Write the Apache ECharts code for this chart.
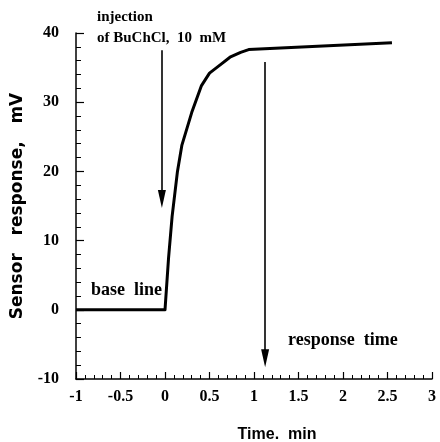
<!DOCTYPE html>
<html><head><meta charset="utf-8">
<script src="https://cdn.jsdelivr.net/npm/echarts@6/dist/echarts.min.js"></script>
<style>html,body{margin:0;padding:0;background:#fff}#c{width:440px;height:442px}</style>
</head><body><div id="c"></div>
<script>
// Data
const timeMin    = [-1, 0, 0.04, 0.08, 0.14, 0.19, 0.30, 0.41, 0.50, 0.62, 0.73, 0.85, 0.94, 2.55];
const responseMV = [0,  0, 7.5,  13.5, 20,   23.8, 28.5, 32.4, 34.2, 35.4, 36.5, 37.2, 37.6, 38.6];
const xRange = [-1, 3];
const yRange = [-10, 40];
const injectionArrow = { x: -0.035, from: 37.5, to: 16 };
const responseArrow  = { x: 1.125, from: 35.8, to: -7 };
const texts = {
  injection1: 'injection',
  injection2: 'of BuChCl,  10  mM',
  baseLine: 'base  line',
  responseTime: 'response  time',
  xTitle: 'Time.  min',
  yTitle: 'Sensor   response,   mV'
};

const serif = '"Liberation Serif", "DejaVu Serif", serif';
const sans = '"Liberation Sans", Arial, sans-serif';
const chart = echarts.init(document.getElementById('c'), null, { renderer: 'canvas' });
const arrowHead = 'path://M5,0 L10,22 L0,22 Z';

chart.setOption({
  animation: false,
  backgroundColor: '#fff',
  grid: { left: 76, right: 8, top: 33, bottom: 63 },
  xAxis: {
    type: 'value', min: xRange[0], max: xRange[1], interval: 0.5,
    axisLine: { show: true, onZero: false, lineStyle: { color: '#000', width: 1.5 } },
    axisTick: { show: true, inside: true, length: 7, lineStyle: { color: '#000', width: 1.2 } },
    minorTick: { show: true, splitNumber: 5, length: 4, lineStyle: { color: '#000', width: 1 } },
    splitLine: { show: false },
    axisLabel: { color: '#000', fontFamily: serif, fontWeight: 'bold', fontSize: 16, margin: 10 }
  },
  yAxis: {
    type: 'value', min: yRange[0], max: yRange[1], interval: 10,
    axisLine: { show: true, onZero: false, lineStyle: { color: '#000', width: 1.5 } },
    axisTick: { show: true, inside: true, length: 8, lineStyle: { color: '#000', width: 1.2 } },
    minorTick: { show: true, splitNumber: 5, length: 5, lineStyle: { color: '#000', width: 1 } },
    splitLine: { show: false },
    axisLabel: { color: '#000', fontFamily: serif, fontWeight: 'bold', fontSize: 16, margin: 17 }
  },
  series: [{
    type: 'line',
    data: timeMin.map((t, i) => [t, responseMV[i]]),
    showSymbol: false,
    smooth: false,
    lineStyle: { color: '#000', width: 3, join: 'round' },
    markLine: {
      silent: true,
      symbol: ['none', arrowHead],
      symbolSize: [8, 18],
      label: { show: false },
      lineStyle: { color: '#000', type: 'solid', width: 1.6 },
      data: [
        [{ coord: [injectionArrow.x, injectionArrow.from] }, { coord: [injectionArrow.x, injectionArrow.to] }],
        [{ coord: [responseArrow.x, responseArrow.from] }, { coord: [responseArrow.x, responseArrow.to] }]
      ]
    }
  }],
  graphic: [
    { type: 'text', x: 97, y: 17, style: { text: texts.injection1, font: 'bold 15px ' + serif, fill: '#000', verticalAlign: 'middle' } },
    { type: 'text', x: 97, y: 38, style: { text: texts.injection2, font: 'bold 15px ' + serif, fill: '#000', verticalAlign: 'middle' } },
    { type: 'text', x: 91, y: 290, style: { text: texts.baseLine, font: 'bold 18px ' + serif, fill: '#000', verticalAlign: 'middle' } },
    { type: 'text', x: 288, y: 340, style: { text: texts.responseTime, font: 'bold 18px ' + serif, fill: '#000', verticalAlign: 'middle' } },
    { type: 'text', x: 277, y: 435, style: { text: texts.xTitle, font: 'bold 16px ' + sans, fill: '#000', align: 'center', verticalAlign: 'middle' } },
    { type: 'text', x: 18, y: 206, rotation: Math.PI / 2, style: { text: texts.yTitle, font: 'bold 17px "DejaVu Sans", sans-serif', fill: '#000', align: 'center', verticalAlign: 'middle' } }
  ]
});
</script></body></html>
